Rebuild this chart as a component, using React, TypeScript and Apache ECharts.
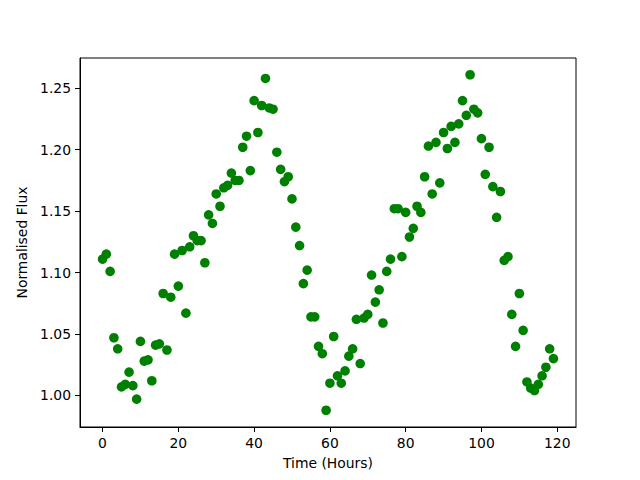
import React, { useEffect, useRef } from "react";
import * as echarts from "echarts";

const hours = [
  0, 1, 2, 3, 4, 5, 6, 7, 8, 9, 10, 11, 12, 13, 14, 15, 16, 17, 18, 19,
  20, 21, 22, 23, 24, 25, 26, 27, 28, 29, 30, 31, 32, 33, 34, 35, 36, 37, 38, 39,
  40, 41, 42, 43, 44, 45, 46, 47, 48, 49, 50, 51, 52, 53, 54, 55, 56, 57, 58, 59,
  60, 61, 62, 63, 64, 65, 66, 67, 68, 69, 70, 71, 72, 73, 74, 75, 76, 77, 78, 79,
  80, 81, 82, 83, 84, 85, 86, 87, 88, 89, 90, 91, 92, 93, 94, 95, 96, 97, 98, 99,
  100, 101, 102, 103, 104, 105, 106, 107, 108, 109, 110, 111, 112, 113, 114, 115, 116, 117, 118, 119,
];

const flux = [
  1.111, 1.115, 1.101, 1.047, 1.038, 1.007, 1.009, 1.019, 1.008, 0.997,
  1.044, 1.028, 1.029, 1.012, 1.041, 1.042, 1.083, 1.037, 1.080, 1.115,
  1.089, 1.118, 1.067, 1.121, 1.130, 1.126, 1.126, 1.108, 1.147, 1.140,
  1.164, 1.154, 1.169, 1.171, 1.181, 1.175, 1.175, 1.202, 1.211, 1.183,
  1.240, 1.214, 1.236, 1.258, 1.234, 1.233, 1.198, 1.184, 1.174, 1.178,
  1.160, 1.137, 1.122, 1.091, 1.102, 1.064, 1.064, 1.040, 1.034, 0.988,
  1.010, 1.048, 1.016, 1.010, 1.020, 1.032, 1.038, 1.062, 1.026, 1.063,
  1.066, 1.098, 1.076, 1.086, 1.059, 1.101, 1.111, 1.152, 1.152, 1.113,
  1.149, 1.129, 1.136, 1.154, 1.149, 1.178, 1.203, 1.164, 1.206, 1.173,
  1.214, 1.201, 1.219, 1.206, 1.221, 1.240, 1.228, 1.261, 1.233, 1.230,
  1.209, 1.180, 1.202, 1.170, 1.145, 1.166, 1.110, 1.113, 1.066, 1.040,
  1.083, 1.053, 1.011, 1.006, 1.004, 1.009, 1.016, 1.023, 1.038, 1.030,
];

const xTickValues = [0, 20, 40, 60, 80, 100, 120];
const yTickValues = [1.0, 1.05, 1.1, 1.15, 1.2, 1.25];
const xAxisTitle = "Time (Hours)";
const yAxisTitle = "Normalised Flux";

const FONT = "DejaVu Sans";
const FS = 13.9;

export default function App() {
  const ref = useRef<HTMLDivElement>(null);
  useEffect(() => {
    if (!ref.current) return;
    const chart = echarts.init(ref.current, null, { renderer: "svg" });
    const xMin = Math.min(...hours);
    const xMax = Math.max(...hours);
    const xPad = (xMax - xMin) * 0.05;
    const yMin = Math.min(...flux);
    const yMax = Math.max(...flux);
    const yPad = (yMax - yMin) * 0.05;
    const axisLineStyle = { color: "#000", width: 1 };
    chart.setOption({
      animation: false,
      backgroundColor: "#fff",
      grid: {
        left: 80,
        top: 58,
        right: 64,
        bottom: 53,
        show: true,
        borderColor: "#000",
        borderWidth: 1,
        backgroundColor: "transparent",
      },
      xAxis: {
        type: "value",
        min: xMin - xPad,
        max: xMax + xPad,
        name: xAxisTitle,
        nameLocation: "middle",
        nameGap: 29,
        nameTextStyle: { color: "#000", fontFamily: FONT, fontSize: FS },
        axisLine: { show: true, onZero: false, lineStyle: axisLineStyle },
        axisTick: { show: true, length: 5, customValues: xTickValues, lineStyle: axisLineStyle },
        axisLabel: {
          customValues: xTickValues,
          margin: 9,
          color: "#000",
          fontFamily: FONT,
          fontSize: FS,
          formatter: (v: number) => String(Math.round(v)),
        },
        splitLine: { show: false },
      },
      yAxis: {
        type: "value",
        min: yMin - yPad,
        max: yMax + yPad,
        name: yAxisTitle,
        nameLocation: "middle",
        nameGap: 42,
        nameTextStyle: { color: "#000", fontFamily: FONT, fontSize: FS },
        axisLine: { show: true, onZero: false, lineStyle: axisLineStyle },
        axisTick: { show: true, length: 5, customValues: yTickValues, lineStyle: axisLineStyle },
        axisLabel: {
          customValues: yTickValues,
          margin: 9,
          color: "#000",
          fontFamily: FONT,
          fontSize: FS,
          formatter: (v: number) => v.toFixed(2),
        },
        splitLine: { show: false },
      },
      series: [
        {
          type: "scatter",
          data: hours.map((h, i) => [h, flux[i]]),
          symbol: "circle",
          symbolSize: 9.6,
          itemStyle: { color: "#008000", opacity: 1 },
        },
      ],
    });
    return () => chart.dispose();
  }, []);
  return (
    <div
      ref={ref}
      style={{ position: "absolute", left: 0, top: 0, width: 640, height: 480 }}
    />
  );
}
